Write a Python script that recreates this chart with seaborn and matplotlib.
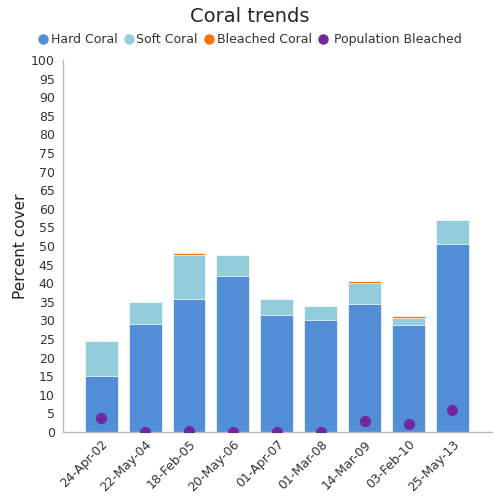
import numpy as np
import pandas as pd
import matplotlib
matplotlib.use("Agg")
import matplotlib.pyplot as plt
import seaborn as sns
from matplotlib.lines import Line2D

dates = ['24-Apr-02', '22-May-04', '18-Feb-05', '20-May-06', '01-Apr-07',
         '01-Mar-08', '14-Mar-09', '03-Feb-10', '25-May-13']
hard_coral = [15.0, 29.0, 35.8, 41.9, 31.5, 30.1, 34.5, 28.8, 50.6]
soft_coral = [9.5, 6.0, 11.8, 5.7, 4.3, 3.8, 5.5, 1.8, 6.4]
bleached_coral = [0.0, 0.0, 0.5, 0.0, 0.0, 0.0, 0.6, 0.6, 0.0]
pop_bleached = [3.8, 0.0, 0.4, 0.0, 0.0, 0.0, 3.0, 2.1, 5.9]

c_hard = '#528ed6'
c_soft = '#93cddb'
c_bleach = '#f97306'
c_pop = '#7027a0'

df = pd.DataFrame({'date': dates, 'hard': hard_coral, 'soft': soft_coral,
                   'bleached': bleached_coral, 'pop': pop_bleached})
df['hs'] = df['hard'] + df['soft']
df['total'] = df['hs'] + df['bleached']

sns.set_style('white')
plt.rcParams['font.family'] = ['DejaVu Sans']

fig, ax = plt.subplots(figsize=(5, 5), dpi=100)
fig.subplots_adjust(left=0.126, right=0.984, top=0.88, bottom=0.136)

# stacked bars drawn back to front
sns.barplot(data=df, x='date', y='total', color=c_bleach, width=0.75,
            saturation=1, edgecolor='white', linewidth=0.5, ax=ax)
sns.barplot(data=df, x='date', y='hs', color=c_soft, width=0.75,
            saturation=1, edgecolor='white', linewidth=0.5, ax=ax)
sns.barplot(data=df, x='date', y='hard', color=c_hard, width=0.75,
            saturation=1, edgecolor='white', linewidth=0.5, ax=ax)
sns.stripplot(data=df, x='date', y='pop', color=c_pop, jitter=False,
              size=8, linewidth=0, ax=ax, zorder=5)

ax.set_ylim(0, 100)
ax.set_xlim(-0.87, 8.9)
ax.set_yticks(np.arange(0, 101, 5))
ax.tick_params(axis='y', labelsize=9, colors='#333333', length=3, width=0.6, pad=3)
ax.tick_params(axis='x', labelsize=9, colors='#333333', length=0, pad=4)
plt.setp(ax.get_xticklabels(), rotation=45, ha='right', rotation_mode='anchor')
ax.set_xlabel('')
ax.set_ylabel('Percent cover', fontsize=11, color='#222222', labelpad=2)

for s in ['top', 'right']:
    ax.spines[s].set_visible(False)
for s in ['left', 'bottom']:
    ax.spines[s].set_color('#bbbbbb')
    ax.spines[s].set_linewidth(1)

fig.suptitle('Coral trends', fontsize=14, y=0.985)

handles = [Line2D([], [], marker='o', ls='', color=c, markersize=6.5)
           for c in [c_hard, c_soft, c_bleach, c_pop]]
labels = ['Hard Coral', 'Soft Coral', 'Bleached Coral', ' Population Bleached']
fig.legend(handles, labels, loc='center', bbox_to_anchor=(0.5, 0.921), ncol=4,
           frameon=False, fontsize=9, handletextpad=0.15, columnspacing=0.45,
           handlelength=0.9, labelcolor='#333333')

fig.savefig('out.png', dpi=100)
